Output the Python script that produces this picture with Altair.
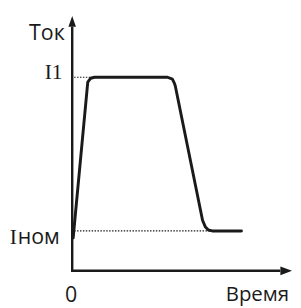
import altair as alt
import pandas as pd

# Schematic current-vs-time curve (arbitrary units)
time = [1, 16, 19, 23, 98, 103, 105, 106, 134, 137, 140, 144, 174]
current = [34, 194, 198, 199, 199, 197, 193, 190, 52, 45, 42, 41, 41]

# Reference levels
level_names = ["I1", "Iном"]
level_values = [199, 41]
level_ends = [20, 144]

# Axis extents (arbitrary units)
axis_time_max = [214]
axis_current_max = [251]
arrow_time = [220]
arrow_current = [256.5]

X_DOMAIN = [-66, 227]
Y_DOMAIN = [-34, 266]
W, H = 293, 300

xs = alt.Scale(domain=X_DOMAIN, nice=False, zero=False)
ys = alt.Scale(domain=Y_DOMAIN, nice=False, zero=False)
INK = "#1a1a1a"

curve_df = pd.DataFrame({"t": time, "i": current, "o": list(range(len(time)))})
curve = alt.Chart(curve_df).mark_line(color=INK, strokeWidth=3, strokeJoin="round", strokeCap="round").encode(
    x=alt.X("t:Q", scale=xs, axis=None),
    y=alt.Y("i:Q", scale=ys, axis=None),
    order="o:Q",
)

lev_df = pd.DataFrame({"name": level_names, "v": level_values, "t0": [2, 2], "t1": level_ends})
dotted = alt.Chart(lev_df).mark_rule(color=INK, strokeWidth=1.2, strokeDash=[1.5, 1.5]).encode(
    x=alt.X("t0:Q", scale=xs, axis=None),
    x2="t1:Q",
    y=alt.Y("v:Q", scale=ys, axis=None),
)

yaxis_df = pd.DataFrame({"t": [0], "i0": [-1], "i1": axis_current_max})
yaxis = alt.Chart(yaxis_df).mark_rule(color=INK, strokeWidth=2.5).encode(
    x=alt.X("t:Q", scale=xs, axis=None),
    y=alt.Y("i0:Q", scale=ys, axis=None),
    y2="i1:Q",
)
xaxis_df = pd.DataFrame({"i": [0], "t0": [-1.2], "t1": axis_time_max})
xaxis = alt.Chart(xaxis_df).mark_rule(color=INK, strokeWidth=2.5).encode(
    y=alt.Y("i:Q", scale=ys, axis=None),
    x=alt.X("t0:Q", scale=xs, axis=None),
    x2="t1:Q",
)

up_df = pd.DataFrame({"t": [0], "i": arrow_current})
up_arrow = alt.Chart(up_df).mark_point(
    shape="M-0.7,1L0,-1L0.7,1Z", size=121, filled=True, color=INK, opacity=1
).encode(x=alt.X("t:Q", scale=xs, axis=None), y=alt.Y("i:Q", scale=ys, axis=None))

right_df = pd.DataFrame({"t": arrow_time, "i": [0]})
right_arrow = alt.Chart(right_df).mark_point(
    shape="M-1,-0.75L1,0L-1,0.75Z", size=144, filled=True, color=INK, opacity=1
).encode(x=alt.X("t:Q", scale=xs, axis=None), y=alt.Y("i:Q", scale=ys, axis=None))


def text_layer(df, align, font, size=22):
    return alt.Chart(df).mark_text(
        font=font, fontSize=size, color=INK, align=align, baseline="alphabetic"
    ).encode(
        x=alt.X("t:Q", scale=xs, axis=None),
        y=alt.Y("i:Q", scale=ys, axis=None),
        text="txt:N",
    )

center_df = pd.DataFrame({"t": [-26, -1], "i": [237, -32], "txt": ["Ток", "0"]})
lab_center = text_layer(center_df, "center", "Open Sans")
time_df = pd.DataFrame({"t": [223], "i": [-31], "txt": ["Время"]})
lab_right = text_layer(time_df, "right", "Open Sans", 21)

i1_df = pd.DataFrame({"t": [-10], "i": [197], "txt": ["I1"]})
lab_i1 = text_layer(i1_df, "right", "Liberation Serif")

inom_i_df = pd.DataFrame({"t": [-57], "i": [28], "txt": ["I"]})
lab_inom_i = text_layer(inom_i_df, "right", "Liberation Serif")
inom_rest_df = pd.DataFrame({"t": [-56], "i": [28], "txt": ["ном"]})
lab_inom_rest = text_layer(inom_rest_df, "left", "Open Sans")

chart = alt.layer(
    dotted, yaxis, xaxis, up_arrow, right_arrow, curve,
    lab_center, lab_right, lab_i1, lab_inom_i, lab_inom_rest,
).properties(
    width=W, height=H, padding=0, background="white",
    autosize=alt.AutoSizeParams(type="none"),
).configure_view(stroke=None)

chart.save("out.html", embed_options={"renderer": "svg", "actions": False})
